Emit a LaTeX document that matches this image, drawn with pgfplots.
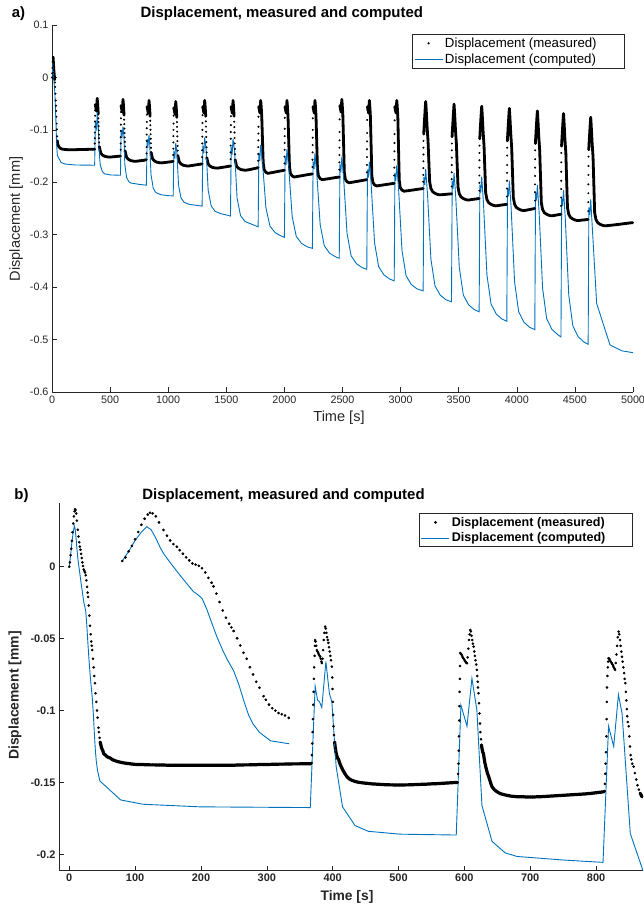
\documentclass[border=0pt]{standalone}
\usepackage{pgfplots}
\usepackage{pgfplotstable}
\pgfplotsset{compat=1.18}
\usepackage{fontspec}
\setmainfont{Liberation Sans}
\definecolor{mblue}{rgb}{0,0.447,0.741}
\definecolor{axgray}{rgb}{0.15,0.15,0.15}
\pgfplotsset{
  dotlegend/.style={legend image code/.code={\draw[##1] plot coordinates {(14bp,0bp)};}},
  linelegend/.style={legend image code/.code={\draw[##1] (0bp,0bp) -- (28bp,0bp);}},
}

% ---------- panel a: measured ----------
\pgfplotstableread[row sep=\\]{t d\\
0 0\\2 0.008\\4 0.018\\6 0.030\\8 0.0385\\10 0.038\\12 0.029\\14 0.021\\16 0.014\\18 0.009\\20 0.003\\22 -0.002\\24 -0.004\\26 -0.0095\\28 -0.018\\30 -0.031\\32 -0.044\\34 -0.054\\36 -0.064\\38 -0.075\\40 -0.088\\42 -0.099\\44 -0.1124\\46 -0.121\\48 -0.124\\50 -0.127\\52 -0.129\\56 -0.131\\62 -0.133\\70 -0.135\\80 -0.1362\\95 -0.137\\113 -0.1375\\131 -0.1378\\149 -0.1378\\167 -0.1378\\185 -0.1378\\203 -0.1378\\221 -0.1377\\239 -0.1376\\257 -0.1375\\275 -0.1374\\293 -0.1373\\311 -0.1372\\329 -0.1371\\347 -0.137\\365 -0.137\\
367 -0.137\\368 -0.126\\368.5 -0.116\\369 -0.105\\369.5 -0.094\\370 -0.084\\370.5 -0.073\\371 -0.063\\372 -0.052\\375 -0.055\\379 -0.060\\383 -0.064\\386 -0.052\\389 -0.040\\392 -0.048\\395 -0.058\\398 -0.070\\399.1 -0.078\\400.2 -0.085\\401.4 -0.093\\402.5 -0.101\\403.6 -0.109\\404.8 -0.116\\405.9 -0.124\\407 -0.132\\419 -0.144\\434 -0.148\\454 -0.1505\\479 -0.1517\\499 -0.152\\517 -0.1516\\535 -0.1512\\553 -0.1508\\571 -0.1504\\589 -0.150\\
590.5 -0.138\\591 -0.126\\591.5 -0.114\\592 -0.102\\592.5 -0.090\\593 -0.078\\593.5 -0.066\\594 -0.054\\597 -0.057\\601 -0.062\\605 -0.066\\608 -0.054\\611 -0.042\\614 -0.050\\617 -0.060\\620 -0.072\\621.1 -0.0805\\622.2 -0.089\\623.4 -0.0975\\624.5 -0.106\\625.6 -0.1145\\626.8 -0.123\\627.9 -0.1315\\629 -0.140\\641 -0.152\\656 -0.156\\676 -0.1585\\701 -0.1597\\721 -0.160\\739 -0.1595\\757 -0.159\\775 -0.1585\\793 -0.158\\811 -0.157\\
813.5 -0.145\\814 -0.133\\814.5 -0.121\\815 -0.109\\815.5 -0.097\\816 -0.085\\816.5 -0.071\\818 -0.056\\821 -0.059\\825 -0.064\\829 -0.068\\832 -0.056\\835 -0.044\\838 -0.052\\841 -0.062\\844 -0.074\\845.1 -0.0826\\846.2 -0.0912\\847.4 -0.0998\\848.5 -0.1084\\849.6 -0.117\\850.8 -0.1256\\851.9 -0.1342\\853 -0.143\\865 -0.155\\880 -0.159\\900 -0.1615\\925 -0.1627\\945 -0.163\\963 -0.1625\\981 -0.162\\999 -0.1615\\1017 -0.161\\1035 -0.1605\\1043 -0.160\\
1043.5 -0.148\\1044 -0.136\\1044.5 -0.124\\1045 -0.112\\1045.5 -0.100\\1046 -0.088\\1046.5 -0.073\\1048 -0.058\\1051 -0.061\\1055 -0.066\\1059 -0.070\\1062 -0.058\\1065 -0.046\\1068 -0.054\\1071 -0.064\\1074 -0.076\\1075.1 -0.0851\\1076.2 -0.0942\\1077.4 -0.1033\\1078.5 -0.1124\\1079.6 -0.1215\\1080.8 -0.1306\\1081.9 -0.1397\\1083 -0.149\\1095 -0.161\\1110 -0.165\\1130 -0.1675\\1155 -0.1687\\1175 -0.169\\1195 -0.1683\\1215 -0.1676\\1235 -0.1669\\1255 -0.1662\\1275 -0.1655\\1292 -0.165\\
1292.5 -0.152\\1293 -0.139\\1293.5 -0.126\\1294 -0.113\\1294.5 -0.100\\1295 -0.087\\1295.5 -0.072\\1297 -0.056\\1300 -0.059\\1304 -0.064\\1308 -0.068\\1311 -0.056\\1314 -0.044\\1317 -0.052\\1320 -0.062\\1323 -0.074\\1324.1 -0.0839\\1325.2 -0.0938\\1326.4 -0.1036\\1327.5 -0.1135\\1328.6 -0.1234\\1329.8 -0.1333\\1330.9 -0.1431\\1332 -0.153\\1344 -0.165\\1359 -0.169\\1379 -0.1715\\1404 -0.1727\\1424 -0.173\\1444 -0.1723\\1464 -0.1716\\1484 -0.1709\\1504 -0.1702\\1520 -0.1696\\1536 -0.169\\
1536.5 -0.156\\1537 -0.143\\1537.5 -0.130\\1538 -0.117\\1538.5 -0.104\\1539 -0.091\\1539.5 -0.074\\1541 -0.056\\1544 -0.059\\1548 -0.064\\1552 -0.068\\1555 -0.056\\1558 -0.044\\1561 -0.052\\1564 -0.062\\1567 -0.074\\1568.1 -0.0844\\1569.2 -0.0948\\1570.4 -0.1051\\1571.5 -0.1155\\1572.6 -0.1259\\1573.8 -0.1363\\1574.9 -0.1466\\1576 -0.157\\1588 -0.169\\1603 -0.173\\1623 -0.1755\\1648 -0.1767\\1668 -0.177\\1688 -0.1763\\1708 -0.1755\\1728 -0.1745\\1748 -0.1735\\1762 -0.1728\\1774 -0.172\\
1774.5 -0.159\\1775 -0.146\\1775.5 -0.133\\1776 -0.120\\1776.5 -0.107\\1777 -0.094\\1777.5 -0.075\\1779 -0.056\\1782 -0.059\\1786 -0.064\\1790 -0.068\\1793 -0.056\\1796 -0.044\\1799 -0.052\\1802 -0.062\\1805 -0.074\\1806.6 -0.0851\\1808.2 -0.0962\\1809.7 -0.1074\\1811.3 -0.1185\\1812.9 -0.1296\\1814.4 -0.1408\\1816 -0.1519\\1817.6 -0.163\\1826 -0.176\\1841 -0.181\\1858 -0.183\\1876 -0.1822\\1894 -0.1815\\1912 -0.1807\\1930 -0.180\\1948 -0.1792\\1966 -0.1784\\1984 -0.1777\\2000 -0.177\\
2000.5 -0.164\\2001 -0.151\\2001.5 -0.138\\2002 -0.125\\2002.5 -0.112\\2003 -0.098\\2003.5 -0.077\\2005 -0.056\\2008 -0.059\\2012 -0.064\\2016 -0.068\\2019 -0.056\\2022 -0.044\\2025 -0.052\\2028 -0.062\\2031 -0.074\\2032.6 -0.086\\2034.2 -0.098\\2035.7 -0.110\\2037.3 -0.122\\2038.9 -0.134\\2040.4 -0.146\\2042 -0.158\\2043.6 -0.170\\2052 -0.183\\2067 -0.188\\2084 -0.190\\2102 -0.1893\\2120 -0.1886\\2138 -0.1879\\2156 -0.1872\\2174 -0.1865\\2192 -0.1858\\2210 -0.1851\\2226 -0.1846\\2241 -0.184\\
2241.5 -0.171\\2242 -0.157\\2242.5 -0.143\\2243 -0.129\\2243.5 -0.115\\2244 -0.100\\2244.5 -0.078\\2246 -0.056\\2249 -0.059\\2253 -0.064\\2257 -0.068\\2260 -0.056\\2263 -0.044\\2266 -0.052\\2269 -0.062\\2272 -0.074\\2273.6 -0.0866\\2275.2 -0.0993\\2276.7 -0.1119\\2278.3 -0.1245\\2279.9 -0.1371\\2281.4 -0.1498\\2283 -0.1624\\2284.6 -0.175\\2293 -0.188\\2308 -0.193\\2325 -0.195\\2343 -0.1944\\2361 -0.1938\\2379 -0.1932\\2397 -0.1926\\2415 -0.1919\\2433 -0.1913\\2451 -0.1907\\2472 -0.190\\
2472.5 -0.176\\2473 -0.162\\2473.5 -0.148\\2474 -0.134\\2474.5 -0.120\\2475 -0.104\\2475.5 -0.080\\2477 -0.054\\2480 -0.057\\2484 -0.062\\2488 -0.066\\2491 -0.054\\2494 -0.042\\2497 -0.050\\2500 -0.060\\2503 -0.072\\2504.6 -0.0856\\2506.2 -0.0993\\2507.7 -0.1129\\2509.3 -0.1265\\2510.9 -0.1401\\2512.4 -0.1538\\2514 -0.1674\\2515.6 -0.181\\2524 -0.194\\2539 -0.199\\2556 -0.201\\2574 -0.2003\\2592 -0.1996\\2610 -0.1989\\2628 -0.1982\\2646 -0.1975\\2664 -0.1968\\2682 -0.1961\\2696 -0.1955\\2709 -0.195\\
2709.5 -0.181\\2710 -0.167\\2710.5 -0.152\\2711 -0.137\\2711.5 -0.122\\2712 -0.106\\2712.5 -0.081\\2714 -0.056\\2717 -0.059\\2721 -0.064\\2725 -0.068\\2728 -0.056\\2731 -0.044\\2734 -0.052\\2737 -0.062\\2740 -0.074\\2741.6 -0.0881\\2743.2 -0.1023\\2744.7 -0.1164\\2746.3 -0.1305\\2747.9 -0.1446\\2749.4 -0.1588\\2751 -0.1729\\2752.6 -0.187\\2761 -0.200\\2776 -0.205\\2793 -0.207\\2811 -0.2064\\2829 -0.2058\\2847 -0.2052\\2865 -0.2046\\2883 -0.204\\2901 -0.2034\\2919 -0.2028\\2933 -0.2024\\2945 -0.202\\
2945.5 -0.187\\2946 -0.172\\2946.5 -0.157\\2947 -0.141\\2947.5 -0.125\\2948 -0.108\\2948.5 -0.082\\2950 -0.056\\2953 -0.059\\2957 -0.064\\2961 -0.068\\2964 -0.056\\2967 -0.044\\2970 -0.052\\2973 -0.062\\2976 -0.074\\2977.6 -0.0894\\2979.2 -0.1048\\2980.7 -0.1201\\2982.3 -0.1355\\2983.9 -0.1509\\2985.4 -0.1663\\2987 -0.1816\\2988.6 -0.197\\2997 -0.210\\3012 -0.215\\3029 -0.217\\3047 -0.2165\\3065 -0.216\\3083 -0.2155\\3101 -0.2149\\3119 -0.2143\\3137 -0.2137\\3155 -0.2131\\3173 -0.2126\\3194 -0.212\\
3195.3 -0.199\\3195.6 -0.186\\3195.9 -0.173\\3196.2 -0.160\\3196.5 -0.147\\3196.8 -0.134\\3197.1 -0.121\\3199 -0.108\\3202 -0.096\\3205 -0.084\\3208 -0.073\\3211 -0.062\\3214 -0.052\\3216 -0.046\\3219 -0.056\\3222 -0.068\\3225 -0.081\\3228 -0.094\\3232 -0.108\\3236 -0.121\\3238 -0.132\\3240 -0.143\\3242 -0.154\\3244 -0.166\\3246 -0.177\\3248 -0.188\\3250 -0.199\\3261 -0.212\\3276 -0.218\\3296 -0.221\\3316 -0.223\\3336 -0.224\\3354 -0.2237\\3372 -0.2234\\3390 -0.223\\3408 -0.2226\\3424 -0.2223\\3438 -0.222\\
3439 -0.222\\3439.3 -0.208\\3439.6 -0.194\\3439.9 -0.181\\3440.2 -0.167\\3440.5 -0.153\\3440.8 -0.139\\3441.1 -0.126\\3443 -0.113\\3446 -0.101\\3449 -0.089\\3452 -0.078\\3455 -0.067\\3458 -0.057\\3460 -0.051\\3463 -0.061\\3466 -0.073\\3469 -0.086\\3472 -0.099\\3476 -0.113\\3480 -0.126\\3482 -0.138\\3484 -0.150\\3486 -0.162\\3488 -0.173\\3490 -0.185\\3492 -0.197\\3494 -0.209\\3505 -0.222\\3520 -0.228\\3540 -0.231\\3560 -0.233\\3580 -0.234\\3598 -0.2334\\3616 -0.2328\\3634 -0.2322\\3652 -0.2317\\3664 -0.2313\\3676 -0.231\\
3677.3 -0.216\\3677.6 -0.201\\3677.9 -0.187\\3678.2 -0.172\\3678.5 -0.158\\3678.8 -0.144\\3679.1 -0.130\\3681 -0.117\\3684 -0.105\\3687 -0.093\\3690 -0.082\\3693 -0.071\\3696 -0.061\\3698 -0.055\\3701 -0.065\\3704 -0.077\\3707 -0.090\\3710 -0.103\\3714 -0.117\\3718 -0.130\\3720 -0.143\\3722 -0.156\\3724 -0.169\\3726 -0.181\\3728 -0.194\\3730 -0.207\\3732 -0.220\\3743 -0.233\\3758 -0.239\\3778 -0.242\\3798 -0.244\\3818 -0.245\\3836 -0.2445\\3854 -0.2439\\3872 -0.2433\\3890 -0.2428\\3902 -0.2424\\3914 -0.242\\
3915.3 -0.227\\3915.6 -0.212\\3915.9 -0.197\\3916.2 -0.182\\3916.5 -0.167\\3916.8 -0.149\\3917.1 -0.134\\3919 -0.121\\3922 -0.109\\3925 -0.097\\3928 -0.086\\3931 -0.075\\3934 -0.065\\3936 -0.059\\3939 -0.069\\3942 -0.081\\3945 -0.094\\3948 -0.107\\3952 -0.121\\3956 -0.134\\3958 -0.148\\3960 -0.161\\3962 -0.175\\3964 -0.188\\3966 -0.202\\3968 -0.215\\3970 -0.229\\3981 -0.242\\3996 -0.248\\4016 -0.251\\4036 -0.253\\4056 -0.254\\4074 -0.2535\\4092 -0.2528\\4110 -0.252\\4128 -0.2512\\4142 -0.2506\\4155 -0.250\\
4156.3 -0.235\\4156.6 -0.219\\4156.9 -0.204\\4157.2 -0.188\\4157.5 -0.172\\4157.8 -0.156\\4158.1 -0.139\\4160 -0.126\\4163 -0.114\\4166 -0.102\\4169 -0.091\\4172 -0.080\\4175 -0.070\\4177 -0.064\\4180 -0.074\\4183 -0.086\\4186 -0.099\\4189 -0.112\\4193 -0.126\\4197 -0.139\\4199 -0.153\\4201 -0.168\\4203 -0.182\\4205 -0.196\\4207 -0.210\\4209 -0.225\\4211 -0.239\\4222 -0.252\\4237 -0.258\\4257 -0.261\\4277 -0.263\\4297 -0.264\\4315 -0.2635\\4333 -0.2628\\4351 -0.2621\\4367 -0.2615\\4380 -0.261\\
4381.3 -0.245\\4381.6 -0.229\\4381.9 -0.213\\4382.2 -0.197\\4382.5 -0.180\\4382.8 -0.162\\4383.1 -0.144\\4385 -0.131\\4388 -0.119\\4391 -0.107\\4394 -0.096\\4397 -0.085\\4400 -0.075\\4402 -0.069\\4405 -0.079\\4408 -0.091\\4411 -0.104\\4414 -0.117\\4418 -0.131\\4422 -0.144\\4424 -0.159\\4426 -0.174\\4428 -0.189\\4430 -0.204\\4432 -0.218\\4434 -0.233\\4436 -0.248\\4447 -0.261\\4462 -0.267\\4482 -0.270\\4502 -0.272\\4522 -0.273\\4540 -0.2727\\4558 -0.2722\\4576 -0.2718\\4594 -0.2714\\4614 -0.271\\
4615.3 -0.255\\4615.6 -0.238\\4615.9 -0.221\\4616.2 -0.204\\4616.5 -0.186\\4616.8 -0.169\\4617.1 -0.151\\4619 -0.138\\4622 -0.126\\4625 -0.114\\4628 -0.103\\4631 -0.092\\4634 -0.082\\4636 -0.076\\4639 -0.086\\4642 -0.098\\4645 -0.111\\4648 -0.124\\4652 -0.138\\4656 -0.151\\4658 -0.166\\4660 -0.181\\4662 -0.197\\4664 -0.212\\4666 -0.227\\4668 -0.243\\4670 -0.258\\4681 -0.271\\4696 -0.277\\4716 -0.280\\4736 -0.282\\4756 -0.283\\4774 -0.2828\\4792 -0.2824\\4810 -0.282\\4828 -0.2815\\4846 -0.2811\\4864 -0.2806\\4882 -0.2801\\4900 -0.2796\\4918 -0.2791\\4936 -0.2786\\4954 -0.2781\\4972 -0.2776\\4990 -0.2772\\5000 -0.277\\
}\measA

% ---------- panel a: computed ----------
\pgfplotstableread[row sep=\\]{t d\\
0 0\\7.7 0.0284\\16 -0.0047\\25 -0.031\\34.9 -0.091\\39.6 -0.1276\\46.5 -0.149\\78 -0.1622\\112 -0.1652\\199 -0.167\\367 -0.1675\\
373.4 -0.083\\377 -0.0927\\383.5 -0.098\\389.7 -0.066\\395 -0.088\\398.8 -0.094\\405.3 -0.139\\415 -0.167\\434 -0.180\\454 -0.184\\502.6 -0.186\\589 -0.1866\\
595 -0.100\\604 -0.111\\611 -0.094\\619 -0.112\\626.7 -0.166\\642 -0.191\\662 -0.199\\680 -0.2015\\750.8 -0.204\\812 -0.2056\\
819 -0.118\\827 -0.128\\835 -0.110\\841 -0.128\\852 -0.1855\\871 -0.211\\889 -0.2185\\910 -0.2215\\945 -0.224\\1000 -0.2255\\1043 -0.226\\
1049 -0.140\\1057 -0.155\\1065 -0.125\\1074.6 -0.1435\\1089 -0.2057\\1110 -0.2297\\1137 -0.2382\\1177 -0.2418\\1241 -0.244\\1292 -0.2454\\
1298 -0.130\\1306 -0.145\\1314 -0.115\\1326 -0.1374\\1344 -0.2152\\1370 -0.2451\\1404 -0.2555\\1454 -0.260\\1514 -0.263\\1536 -0.2645\\
1542 -0.132\\1550 -0.147\\1558 -0.117\\1572 -0.1422\\1592.5 -0.2296\\1622 -0.2632\\1661.5 -0.2749\\1719 -0.280\\1774 -0.285\\
1780 -0.144\\1788 -0.159\\1796 -0.129\\1811 -0.1607\\1841 -0.2487\\1876 -0.2839\\1921 -0.2962\\1971 -0.3024\\2000 -0.305\\
2006 -0.152\\2014 -0.167\\2022 -0.137\\2037 -0.171\\2067 -0.2655\\2102 -0.3033\\2147 -0.3165\\2197 -0.3232\\2241 -0.326\\
2247 -0.160\\2255 -0.175\\2263 -0.145\\2278 -0.181\\2308 -0.281\\2343 -0.321\\2388 -0.335\\2438 -0.342\\2472 -0.345\\
2478 -0.166\\2486 -0.181\\2494 -0.151\\2509 -0.1897\\2539 -0.2972\\2574 -0.3402\\2619 -0.3552\\2669 -0.3628\\2709 -0.366\\
2715 -0.176\\2723 -0.191\\2731 -0.161\\2746 -0.2019\\2776 -0.3154\\2811 -0.3608\\2856 -0.3766\\2906 -0.3846\\2945 -0.388\\
2951 -0.182\\2959 -0.197\\2967 -0.167\\2982 -0.2102\\3012 -0.3302\\3047 -0.3782\\3092 -0.395\\3142 -0.4034\\3194 -0.407\\
3200 -0.190\\3208 -0.205\\3216 -0.175\\3231 -0.2205\\3261 -0.347\\3296 -0.3976\\3341 -0.4153\\3391 -0.4242\\3438 -0.428\\
3444 -0.197\\3452 -0.212\\3460 -0.182\\3475 -0.2297\\3505 -0.3622\\3540 -0.4152\\3585 -0.4337\\3635 -0.443\\3676 -0.447\\
3682 -0.2045\\3690 -0.2195\\3698 -0.1895\\3713 -0.2391\\3743 -0.3768\\3778 -0.4319\\3823 -0.4512\\3873 -0.4609\\3914 -0.465\\
3920 -0.212\\3928 -0.227\\3936 -0.197\\3951 -0.2481\\3981 -0.3901\\4016 -0.4469\\4061 -0.4668\\4111 -0.4767\\4155 -0.481\\
4161 -0.220\\4169 -0.235\\4177 -0.205\\4192 -0.2572\\4222 -0.4022\\4257 -0.4602\\4302 -0.4805\\4352 -0.4906\\4380 -0.495\\
4386 -0.230\\4394 -0.245\\4402 -0.215\\4417 -0.2679\\4447 -0.4149\\4482 -0.4737\\4527 -0.4943\\4577 -0.5046\\4614 -0.509\\
4620 -0.248\\4628 -0.262\\4636 -0.2326\\4687 -0.431\\4802 -0.5103\\4903 -0.5215\\5000 -0.525\\
}\compA

% ---------- panel b: measured ----------
\pgfplotstableread[row sep=\\]{t d\\
0 0\\1 0.003\\2 0.008\\3 0.0125\\4 0.018\\5 0.024\\6 0.030\\7 0.035\\8 0.0385\\8.7 0.040\\9.5 0.0395\\10.5 0.037\\11.5 0.032\\12.9 0.0257\\14 0.021\\15 0.017\\16 0.014\\17.1 0.0118\\18 0.009\\19 0.006\\20 0.003\\21 0.0005\\22 -0.002\\23 -0.003\\24 -0.004\\25 -0.006\\26 -0.0095\\27 -0.014\\28 -0.018\\28.6 -0.021\\29.5 -0.027\\30.5 -0.034\\31.5 -0.041\\32.5 -0.047\\33.5 -0.052\\34.2 -0.055\\34.9 -0.058\\36 -0.064\\37 -0.070\\38 -0.076\\39 -0.081\\40 -0.088\\41 -0.094\\42 -0.100\\43 -0.105\\44.3 -0.112\\45 -0.115\\46 -0.119\\47 -0.122\\48 -0.124\\49 -0.126\\50 -0.127\\51 -0.128\\52.2 -0.130\\
53.5 -0.1305\\55 -0.131\\57 -0.132\\59 -0.1325\\62 -0.133\\65 -0.134\\68 -0.1347\\72 -0.1353\\76 -0.1358\\80 -0.1362\\85 -0.1366\\90 -0.1369\\95 -0.1372\\
98 -0.1374\\101.5 -0.1375\\105 -0.1375\\108.5 -0.1376\\112 -0.1376\\115.5 -0.1377\\119 -0.1377\\122.5 -0.1378\\126 -0.1378\\129.5 -0.1378\\133 -0.1379\\136.5 -0.1379\\140 -0.1379\\143.5 -0.1379\\147 -0.138\\150.5 -0.138\\154 -0.138\\157.5 -0.138\\161 -0.138\\164.5 -0.138\\168 -0.138\\171.5 -0.138\\175 -0.1381\\178.5 -0.1381\\182 -0.1381\\185.5 -0.1381\\189 -0.1381\\192.5 -0.1381\\196 -0.1381\\199.5 -0.1381\\203 -0.1381\\206.5 -0.1381\\210 -0.1381\\213.5 -0.1381\\217 -0.1381\\220.5 -0.1381\\224 -0.1381\\227.5 -0.138\\231 -0.138\\234.5 -0.138\\238 -0.138\\241.5 -0.138\\245 -0.138\\248.5 -0.138\\252 -0.138\\255.5 -0.1379\\259 -0.1379\\262.5 -0.1379\\266 -0.1378\\269.5 -0.1378\\273 -0.1378\\276.5 -0.1377\\280 -0.1377\\283.5 -0.1377\\287 -0.1376\\290.5 -0.1376\\294 -0.1376\\297.5 -0.1375\\301 -0.1375\\304.5 -0.1375\\308 -0.1374\\311.5 -0.1374\\315 -0.1374\\318.5 -0.1373\\322 -0.1373\\325.5 -0.1373\\329 -0.1372\\332.5 -0.1372\\336 -0.1372\\339.5 -0.1371\\343 -0.1371\\346.5 -0.1371\\350 -0.1371\\353.5 -0.137\\357 -0.137\\360.5 -0.137\\364 -0.137\\367 -0.137\\
368 -0.1365\\368.5 -0.131\\369 -0.123\\369.5 -0.115\\370 -0.106\\370.5 -0.096\\371 -0.087\\371.5 -0.078\\372 -0.070\\372.5 -0.062\\373 -0.055\\373.4 -0.051\\374 -0.052\\375 -0.055\\376 -0.058\\377 -0.059\\378 -0.060\\379 -0.061\\380 -0.062\\381 -0.0626\\382 -0.064\\383 -0.066\\383.6 -0.067\\384.5 -0.064\\385.5 -0.058\\386.5 -0.051\\387.5 -0.046\\388.6 -0.0417\\389.5 -0.043\\390.5 -0.046\\391.5 -0.049\\392.5 -0.051\\393.6 -0.053\\394.5 -0.056\\395.5 -0.059\\396.5 -0.062\\397.5 -0.065\\398.8 -0.0695\\399.3 -0.077\\399.8 -0.085\\400.3 -0.094\\400.8 -0.103\\401.3 -0.111\\402 -0.117\\403 -0.122\\404 -0.126\\405 -0.129\\406 -0.131\\407 -0.1325\\408 -0.1335\\409 -0.134\\411 -0.137\\413 -0.139\\415 -0.141\\418 -0.1435\\421.6 -0.146\\425 -0.1475\\429 -0.1485\\433 -0.1492\\437 -0.1497\\441 -0.150\\445 -0.1503\\449 -0.1505\\452 -0.1506\\
455.5 -0.1508\\459 -0.151\\462.5 -0.1511\\466 -0.1512\\469.5 -0.1513\\473 -0.1514\\476.5 -0.1515\\480 -0.1516\\483.5 -0.1516\\487 -0.1517\\490.5 -0.1517\\494 -0.1518\\497.5 -0.1518\\501 -0.1518\\504.5 -0.1518\\508 -0.1518\\511.5 -0.1517\\515 -0.1517\\518.5 -0.1516\\522 -0.1516\\525.5 -0.1515\\529 -0.1515\\532.5 -0.1514\\536 -0.1513\\539.5 -0.1513\\543 -0.1512\\546.5 -0.1511\\550 -0.151\\553.5 -0.151\\557 -0.1509\\560.5 -0.1508\\564 -0.1507\\567.5 -0.1506\\571 -0.1505\\574.5 -0.1504\\578 -0.1503\\581.5 -0.1502\\585 -0.1501\\588.5 -0.150\\
590 -0.150\\590.5 -0.144\\591 -0.137\\591.4 -0.128\\591.8 -0.118\\592.2 -0.107\\592.5 -0.097\\592.8 -0.087\\593.1 -0.078\\593.4 -0.069\\593.7 -0.060\\594.5 -0.0605\\595.5 -0.061\\596.5 -0.062\\597.5 -0.063\\598.8 -0.0638\\600 -0.0648\\601 -0.0655\\602 -0.0662\\603 -0.0668\\604 -0.0672\\605 -0.063\\606 -0.057\\607 -0.051\\608 -0.047\\609 -0.044\\610 -0.045\\611 -0.048\\612 -0.051\\613 -0.0535\\614 -0.0556\\615 -0.059\\616 -0.062\\617 -0.065\\618 -0.068\\619 -0.0718\\619.6 -0.076\\620.2 -0.080\\620.8 -0.084\\621.6 -0.088\\622.3 -0.095\\623 -0.102\\623.7 -0.109\\624.4 -0.115\\625.2 -0.120\\626 -0.124\\627 -0.127\\628 -0.129\\629 -0.130\\631 -0.136\\633 -0.140\\635 -0.1435\\637 -0.146\\640 -0.1505\\642 -0.153\\645 -0.1548\\648 -0.156\\652 -0.1572\\656 -0.158\\660 -0.1585\\664.7 -0.159\\669 -0.1594\\674 -0.1597\\679 -0.1599\\
682.5 -0.16\\686 -0.16\\689.5 -0.16\\693 -0.1601\\696.5 -0.1601\\700 -0.1601\\703.5 -0.1601\\707 -0.1601\\710.5 -0.16\\714 -0.16\\717.5 -0.1599\\721 -0.1598\\724.5 -0.1597\\728 -0.1596\\731.5 -0.1595\\735 -0.1594\\738.5 -0.1593\\742 -0.1592\\745.5 -0.1591\\749 -0.159\\752.5 -0.1589\\756 -0.1588\\759.5 -0.1587\\763 -0.1586\\766.5 -0.1585\\770 -0.1584\\773.5 -0.1583\\777 -0.1582\\780.5 -0.1581\\784 -0.158\\787.5 -0.1578\\791 -0.1577\\794.5 -0.1575\\798 -0.1573\\801.5 -0.1571\\805 -0.1569\\808.5 -0.1567\\812 -0.1565\\
813 -0.156\\813.5 -0.151\\814 -0.144\\814.5 -0.137\\815 -0.129\\815.6 -0.118\\816 -0.106\\816.4 -0.094\\816.7 -0.084\\817.2 -0.076\\817.8 -0.070\\818.4 -0.066\\819 -0.0637\\820 -0.064\\821 -0.065\\822 -0.0658\\823 -0.0665\\824 -0.067\\825 -0.068\\826 -0.069\\827 -0.070\\828 -0.071\\829 -0.0718\\830 -0.067\\831 -0.061\\832 -0.055\\833 -0.049\\834.3 -0.0452\\835.3 -0.047\\836.3 -0.051\\837.3 -0.055\\838.4 -0.059\\839.5 -0.0626\\840.5 -0.066\\841.5 -0.070\\842.5 -0.074\\843.5 -0.078\\844.5 -0.081\\845.3 -0.087\\846 -0.093\\846.8 -0.099\\847.5 -0.104\\848.3 -0.108\\849.6 -0.111\\850.5 -0.118\\851.5 -0.125\\852.5 -0.131\\853.5 -0.134\\855 -0.137\\857 -0.139\\859 -0.1435\\861 -0.148\\863 -0.152\\865 -0.155\\867 -0.1575\\869.8 -0.160\\
}\measB

% ---------- panel b: computed ----------
\pgfplotstableread[row sep=\\]{t d\\
0 0\\2 0.008\\4 0.017\\6 0.024\\7.7 0.0284\\9 0.026\\10.5 0.019\\12 0.0105\\13 0.006\\14.5 0.0005\\16 -0.0047\\18 -0.0115\\20 -0.018\\22.3 -0.0254\\23.5 -0.0275\\25 -0.031\\26.5 -0.040\\28 -0.051\\29.7 -0.063\\31.5 -0.074\\33 -0.082\\34.9 -0.091\\36.5 -0.102\\38 -0.115\\39.6 -0.1276\\41 -0.135\\43 -0.142\\46.5 -0.149\\78 -0.1622\\112 -0.1652\\199 -0.167\\366 -0.1675\\
373.4 -0.083\\377 -0.0927\\380 -0.0939\\383.5 -0.098\\389.7 -0.066\\395 -0.088\\398.8 -0.094\\405.3 -0.139\\415 -0.167\\434 -0.180\\454 -0.184\\502.6 -0.186\\587.7 -0.1866\\
594.8 -0.0962\\604 -0.111\\611.5 -0.0776\\619 -0.0997\\626.7 -0.166\\642 -0.191\\662 -0.199\\680 -0.2015\\750.8 -0.204\\810.6 -0.2056\\
819 -0.111\\826.8 -0.125\\834 -0.089\\839.5 -0.102\\852 -0.1855\\871 -0.211\\890 -0.2185\\
}\compB

\begin{document}
\begin{tikzpicture}
\useasboundingbox (0,0) rectangle (644bp,906bp);

% ================= panel a =================
\begin{axis}[
  at={(52bp,514bp)}, anchor=south west,
  scale only axis, width=581bp, height=367bp,
  xmin=0, xmax=5000, ymin=-0.6, ymax=0.1,
  axis x line*=bottom, axis y line*=left,
  axis line style={axgray, line width=0.6bp},
  tick style={axgray, line width=0.6bp},
  major tick length=5bp, tick align=inside,
  xtick={0,500,1000,1500,2000,2500,3000,3500,4000,4500,5000},
  xticklabels={0,500,1000,1500,2000,2500,3000,3500,4000,4500,5000},
  ytick={-0.6,-0.5,-0.4,-0.3,-0.2,-0.1,0,0.1},
  yticklabels={-0.6,-0.5,-0.4,-0.3,-0.2,-0.1,0,0.1},
  tick label style={font=\fontsize{10.8}{12}\selectfont, text=axgray},
  legend cell align=left,
  linelegend,
  legend style={at={(0.9862,0.9755)}, anchor=north east, draw=axgray, line width=0.6bp,
    font=\fontsize{13.3}{15}\selectfont, inner xsep=2bp, inner ysep=1.5bp, row sep=1bp},
]
% dense (slowly varying) stretches of the measured series: the samples merge into a band
\addplot[black, line width=2.8bp, line join=round, line cap=round, forget plot, unbounded coords=jump,
  x filter/.expression={((x>24.5&&x<45.5)||(x>367.8&&x<371.8)||(x>398.5&&x<406.7)||(x>590.2&&x<593.8)||(x>620.5&&x<628.7)||(x>813.2&&x<817)||(x>844.5&&x<852.7)||(x>1043.2&&x<1047)||(x>1074.5&&x<1082.7)||(x>1292.2&&x<1296)||(x>1323.5&&x<1331.7)||(x>1536.2&&x<1540)||(x>1567.5&&x<1575.7)||(x>1774.2&&x<1778)||(x>2000.2&&x<2004)||(x>2241.2&&x<2245)||(x>2472.2&&x<2476)||(x>2709.2&&x<2713)||(x>2945.2&&x<2949)||(x>3195.1&&x<3198)||(x>3439.1&&x<3442)||(x>3677.1&&x<3680)||(x>3915.1&&x<3918)||(x>4156.1&&x<4159)||(x>4381.1&&x<4384)||(x>4615.1&&x<4618)) ? nan : x}]
  table[x=t,y=d]{\measA};
\addplot[only marks, mark=*, mark size=0.8pt, mark options={fill=black, draw=none}, dotlegend]
  table[x=t,y=d]{\measA};
\addlegendentry{Displacement (measured)\rule{24bp}{0pt}}
\addplot[mblue, line width=0.9bp] table[x=t,y=d]{\compA};
\addlegendentry{Displacement (computed)}
\end{axis}

\node[font=\bfseries\fontsize{15}{17}\selectfont] at (18.5bp,892bp) {a)};
\node[font=\bfseries\fontsize{15}{17}\selectfont] at (281.8bp,892bp) {Displacement, measured and computed};
\node[rotate=90, font=\fontsize{14.6}{16}\selectfont, text=axgray] at (16bp,687bp) {Displacement [mm]};
\node[font=\fontsize{14.6}{16}\selectfont, text=axgray] at (339bp,488bp) {Time [s]};

% ================= panel b =================
\begin{axis}[
  at={(59bp,35.3bp)}, anchor=south west,
  scale only axis, width=584bp, height=367.4bp,
  xmin=-15.6, xmax=871.3, ymin=-0.2114, ymax=0.0441,
  axis x line*=bottom, axis y line*=left,
  axis line style={axgray, line width=0.6bp},
  tick style={axgray, line width=0.6bp},
  major tick length=5bp, tick align=inside,
  xtick={0,100,200,300,400,500,600,700,800},
  xticklabels={0,100,200,300,400,500,600,700,800},
  ytick={-0.2,-0.15,-0.1,-0.05,0},
  yticklabels={-0.2,-0.15,-0.1,-0.05,0},
  tick label style={font=\bfseries\fontsize{11}{12}\selectfont, text=axgray},
  legend cell align=left,
  linelegend,
  legend style={at={(0.9829,0.9728)}, anchor=north east, draw=axgray, line width=0.6bp,
    font=\bfseries\fontsize{12.6}{14}\selectfont, inner xsep=2bp, inner ysep=1.5bp, row sep=1bp},
]
\addplot[black, line width=3.2bp, line join=round, line cap=round, forget plot, unbounded coords=jump,
  x filter/.expression={((x<46.5)||(x>367.5&&x<402.5)||(x>589.8&&x<625.5)||(x>812.8&&x<866)) ? nan : x}]
  table[x=t,y=d]{\measB};
\addplot[only marks, mark=*, mark size=1.1pt, mark options={fill=black, draw=none}, dotlegend]
  table[x=t,y=d]{\measB};
\addlegendentry{Displacement (measured)\rule{24bp}{0pt}}
\addplot[mblue, line width=0.9bp] table[x=t,y=d]{\compB};
\addlegendentry{Displacement (computed)}
\end{axis}

% inset: first peak enlarged
\begin{axis}[
  at={(120.7bp,151.9bp)}, anchor=south west,
  scale only axis, width=168.4bp, height=247.4bp,
  xmin=-0.5, xmax=52.3, ymin=-0.16, ymax=0.045,
  hide axis, clip=true,
]
\addplot[only marks, mark=*, mark size=1.15pt, mark options={fill=black, draw=none}] table[x=t,y=d]{\measB};
\addplot[mblue, line width=0.9bp] table[x=t,y=d]{\compB};
\end{axis}

\node[font=\bfseries\fontsize{15}{17}\selectfont] at (21.5bp,410bp) {b)};
\node[font=\bfseries\fontsize{15}{17}\selectfont] at (283.5bp,410bp) {Displacement, measured and computed};
\node[rotate=90, font=\bfseries\fontsize{14}{16}\selectfont, text=axgray] at (15bp,210.5bp) {Displacement [mm]};
\node[font=\bfseries\fontsize{13.9}{16}\selectfont, text=axgray] at (347bp,9bp) {Time [s]};
\end{tikzpicture}
\end{document}
